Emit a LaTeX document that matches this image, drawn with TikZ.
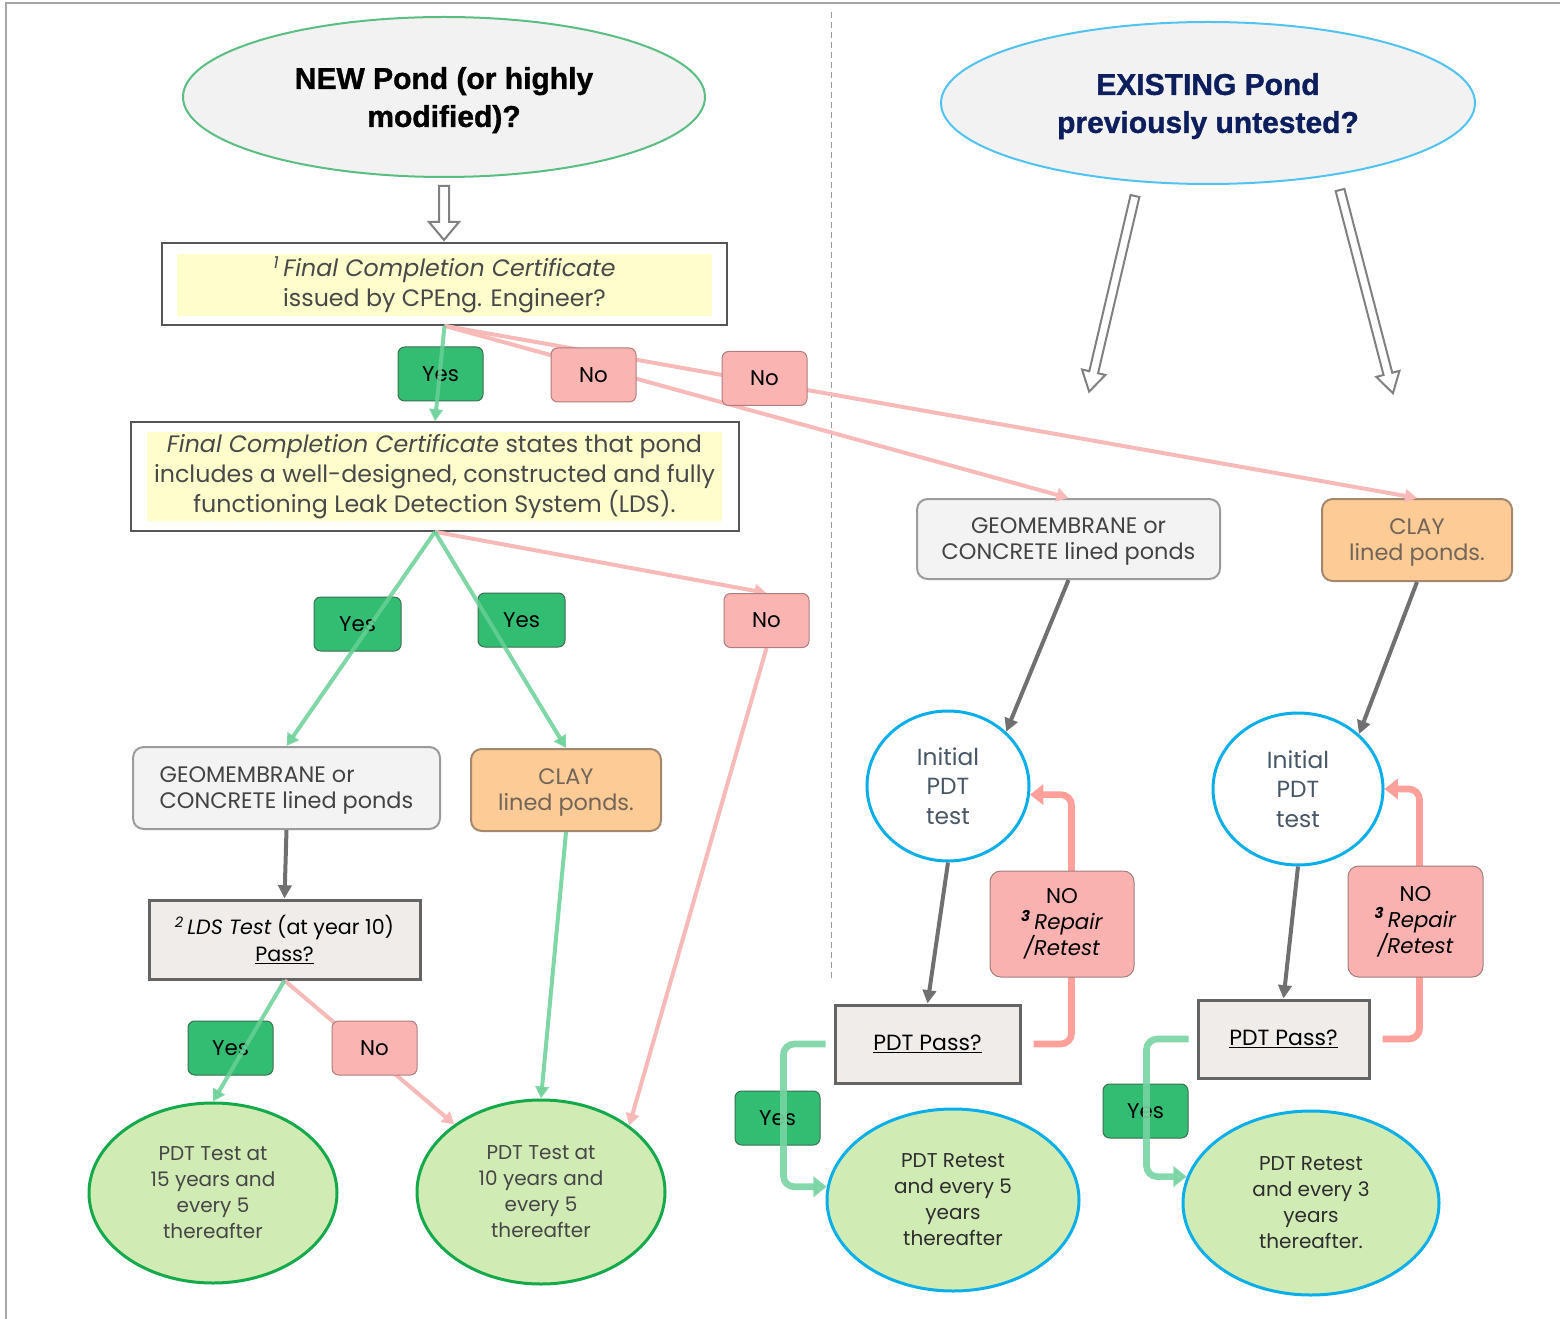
\documentclass[tikz,border=0pt]{standalone}
\usepackage{fontspec}
\setmainfont{Poppins}
\newfontfamily\headfont[BoldFeatures={FakeBold=1.2}]{Liberation Sans}
\usetikzlibrary{shapes.geometric,arrows.meta}

\tikzset{every picture/.style={line width=0.75pt}}
\tikzset{
  pondq/.style={ellipse, inner sep=0pt, fill={rgb, 255:red, 242; green, 242; blue, 242}, line width=1.5pt, align=center, text depth=-5pt, font=\headfont\bfseries\fontsize{22.5}{28.5}\selectfont},
  framebox/.style={rectangle, draw={rgb, 255:red, 85; green, 85; blue, 85}, line width=1.2pt, inner sep=0pt},
  hilite/.style={rectangle, fill={rgb, 255:red, 255; green, 253; blue, 204}, inner sep=0pt, align=center, text={rgb, 255:red, 72; green, 72; blue, 72}, font=\fontsize{17.8}{22.5}\selectfont},
  yeslbl/.style={rectangle, rounded corners=5pt, draw={rgb, 255:red, 60; green, 110; blue, 80}, fill={rgb, 255:red, 51; green, 189; blue, 115}, minimum width=63.75pt, minimum height=40.5pt, inner sep=0pt, font=\fontsize{16}{19}\selectfont},
  nolbl/.style={yeslbl, draw={rgb, 255:red, 175; green, 125; blue, 125}, fill={rgb, 255:red, 250; green, 180; blue, 178}},
  lined/.style={rectangle, rounded corners=8pt, line width=1.5pt, inner sep=0pt, minimum height=61.5pt, align=center, text depth=-1pt, font=\fontsize{16.8}{19.5}\selectfont},
  geobox/.style={lined, draw={rgb, 255:red, 155; green, 155; blue, 155}, fill={rgb, 255:red, 243; green, 243; blue, 243}, text={rgb, 255:red, 67; green, 67; blue, 67}},
  claybox/.style={lined, draw={rgb, 255:red, 165; green, 135; blue, 110}, fill={rgb, 255:red, 253; green, 203; blue, 150}, text={rgb, 255:red, 115; green, 100; blue, 88}},
  passbox/.style={rectangle, draw={rgb, 255:red, 100; green, 100; blue, 100}, line width=2.25pt, fill={rgb, 255:red, 239; green, 236; blue, 234}, inner sep=0pt, minimum height=58.5pt, align=center, font=\fontsize{16.5}{20}\selectfont},
  outcome/.style={ellipse, fill={rgb, 255:red, 209; green, 235; blue, 181}, line width=2.25pt, inner sep=0pt, align=center, text={rgb, 255:red, 70; green, 70; blue, 70}, font=\fontsize{15}{19.5}\selectfont},
  pdtring/.style={ellipse, draw={rgb, 255:red, 10; green, 174; blue, 232}, line width=2.25pt, fill=white, inner sep=0pt, align=center, text={rgb, 255:red, 72; green, 86; blue, 102}, font=\fontsize{17.5}{22}\selectfont},
  repbox/.style={rectangle, rounded corners=8pt, draw={rgb, 255:red, 160; green, 125; blue, 125}, fill={rgb, 255:red, 250; green, 178; blue, 176}, inner sep=0pt, align=center, font=\fontsize{16}{19.5}\selectfont},
  yesline/.style={draw={rgb, 255:red, 105; green, 208; blue, 150}, opacity=0.85, line width=3pt, -{Triangle[length=9pt,width=10pt]}},
  noline/.style={draw={rgb, 255:red, 248; green, 185; blue, 185}, line width=3pt, -{Triangle[length=9pt,width=10pt]}},
  greyline/.style={draw={rgb, 255:red, 112; green, 112; blue, 112}, line width=3pt, -{Triangle[length=10pt,width=10pt]}},
  noloop/.style={draw={rgb, 255:red, 255; green, 160; blue, 155}, line width=5pt, rounded corners=8pt, shorten <=9pt, -{Triangle[length=10pt,width=15pt]}},
  yesloop/.style={draw={rgb, 255:red, 120; green, 212; blue, 162}, opacity=0.9, line width=5pt, rounded corners=8pt, shorten <=6pt, -{Triangle[length=10pt,width=15pt]}},
  hollowarr/.style={draw={rgb, 255:red, 128; green, 128; blue, 128}, fill=white, line width=1.5pt, line join=miter}
}

\begin{document}
\begin{tikzpicture}[x=0.75pt,y=0.75pt,yscale=-1]
\useasboundingbox (0,0) rectangle (1560,1319);

%Straight Lines (frame)
\draw [color={rgb, 255:red, 165; green, 165; blue, 165 }, line width=1.5pt] (5,3) -- (1560,3) ;
\draw [color={rgb, 255:red, 165; green, 165; blue, 165 }, line width=1.5pt] (6,3) -- (6,1319) ;
%Straight Lines (divider)
\draw [color={rgb, 255:red, 155; green, 155; blue, 155 }, dash pattern=on 4.5pt off 3pt] (831,12) -- (831,980) ;

%Shape: Ellipse
\node [pondq, draw={rgb, 255:red, 90; green, 190; blue, 130}, minimum width=391.5pt, minimum height=120pt] (newq) at (444,97) {NEW Pond (or highly\\modified)?};
%Shape: Ellipse
\node [pondq, draw={rgb, 255:red, 80; green, 195; blue, 240}, text={rgb, 255:red, 12; green, 30; blue, 92}, minimum width=400.5pt, minimum height=121.5pt] (oldq) at (1208,103) {EXISTING Pond\\previously untested?};

%Hollow arrows
\draw [hollowarr, shift={(444,186)}] (-5,0) -- (-5,36) -- (-15,36) -- (0,54) -- (15,36) -- (5,36) -- (5,0) -- cycle ;
\draw [hollowarr, shift={(1135,196)}, rotate=13.2] (-4.5,0) -- (-4.5,181) -- (-12,181) -- (0,201) -- (12,181) -- (4.5,181) -- (4.5,0) -- cycle ;
\draw [hollowarr, shift={(1340,190)}, rotate=-14.6] (-4.5,0) -- (-4.5,190) -- (-12,190) -- (0,210) -- (12,190) -- (4.5,190) -- (4.5,0) -- cycle ;

%Shape: Rectangle
\node [framebox, minimum width=423.75pt, minimum height=61.5pt] (fcc) at (444.5,284) {};
\node [hilite, minimum width=401.25pt, minimum height=46.5pt] (fcctxt) at (444.5,285) {\textsuperscript{\itshape 1}\,\textit{Final Completion Certificate}\\issued by CPEng. Engineer?};
%Shape: Rectangle
\node [framebox, minimum width=456pt, minimum height=81.75pt] (ldsq) at (435,476.5) {};
\node [hilite, minimum width=431.25pt, minimum height=66.75pt] (ldsqtxt) at (434.5,476.5) {\textit{Final Completion Certificate} states that pond\\includes a well-designed, constructed and fully\\functioning Leak Detection System (LDS).};

%Shape: Rounded Rect
\node [geobox, minimum width=230.25pt, align=left] (geoL) at (286.5,788) {GEOMEMBRANE or\\CONCRETE lined ponds};
\node [claybox, minimum width=142.5pt] (clayL) at (566,790) {CLAY\\lined ponds.};
\node [geobox, minimum width=227.25pt, minimum height=60pt] (geoR) at (1068.5,539) {GEOMEMBRANE or\\CONCRETE lined ponds};
\node [claybox, minimum width=142.5pt] (clayR) at (1417,540) {CLAY\\lined ponds.};

%Shape: Rectangle
\node [passbox, minimum width=203.25pt, minimum height=59.25pt, font=\fontsize{15.5}{20}\selectfont] (ldsT) at (284.5,939.5) {\textsuperscript{\itshape 2}\,\textit{LDS Test} (at year 10)\\\underline{Pass?}};
\node [passbox, minimum width=138.75pt] (pass1) at (927.5,1044) {\underline{PDT Pass?}};
\node [passbox, minimum width=128.25pt] (pass2) at (1283.5,1039) {\underline{PDT Pass?}};

%Shape: Ellipse
\node [outcome, draw={rgb, 255:red, 20; green, 170; blue, 75}, minimum width=186pt, minimum height=135pt] (p15) at (213,1193) {PDT Test at\\15 years and\\every 5\\thereafter};
\node [outcome, draw={rgb, 255:red, 20; green, 170; blue, 75}, minimum width=186pt, minimum height=138pt] (p10) at (541,1192) {PDT Test at\\10 years and\\every 5\\thereafter};
\node [outcome, draw={rgb, 255:red, 10; green, 174; blue, 232}, text={rgb, 255:red, 45; green, 45; blue, 45}, minimum width=189pt, minimum height=136.5pt] (r5) at (953,1200) {PDT Retest\\and every 5\\years\\thereafter};
\node [outcome, draw={rgb, 255:red, 10; green, 174; blue, 232}, text={rgb, 255:red, 45; green, 45; blue, 45}, minimum width=192pt, minimum height=138pt] (r3) at (1311,1203) {PDT Retest\\and every 3\\years\\thereafter.};

%Shape: Circle
\node [pdtring, minimum width=121.5pt, minimum height=112.5pt] (c1) at (948,786) {Initial\\PDT\\test};
\node [pdtring, minimum width=127.5pt, minimum height=114pt] (c2) at (1298,789) {Initial\\PDT\\test};

%Straight Lines (no branches, behind labels)
\draw [noline] (fcc.south) -- (geoR.north) ;
\draw [noline] (fcc.south) -- (clayR.north) ;
\draw [noline] (ldsq.south) -- (766.5,593) ;
\draw [noline] (766.5,648) -- (p10.37) ;
\draw [noline] (ldsT.south) -- (p10.142) ;
%Curve Lines (retest loops)
\draw [noloop] (pass1.east) -- ++(50,0) |- (c1.-6) ;
\draw [noloop] (pass2.east) -- ++(49,0) |- (c2.east) ;

% Text Node
\node [nolbl] (fn1) at (593.5,375) {No};
\node [nolbl] (fn2) at (764.5,378.5) {No};
\node [nolbl] (ln1) at (766.5,620.5) {No};
\node [nolbl] (tn) at (374.5,1048) {No};
\node [yeslbl] (fy1) at (440.5,374) {Yes};
\node [yeslbl, minimum width=65.25pt] (ly1) at (357.5,624) {Yes};
\node [yeslbl, minimum width=65.25pt] (ly2) at (521.5,620) {Yes};
\node [yeslbl] (ty) at (230.5,1048) {Yes};
\node [yeslbl] (ry1) at (777.5,1118) {Yes};
\node [yeslbl] (ry2) at (1145.5,1111) {Yes};
\node [repbox, minimum width=108pt, minimum height=79.5pt] (rep1) at (1062,924) {NO\\\textsuperscript{\bfseries\itshape 3}\,\textit{Repair}\\\textit{/Retest}};
\node [repbox, minimum width=101.25pt, minimum height=83.25pt] (rep2) at (1415.5,921.5) {NO\\\textsuperscript{\bfseries\itshape 3}\,\textit{Repair}\\\textit{/Retest}};

%Straight Lines (yes branches)
\draw [yesline] (fcc.south) -- (ldsq.north) ;
\draw [yesline] (ldsq.south) -- (geoL.north) ;
\draw [yesline] (ldsq.south) -- (clayL.north) ;
\draw [yesline] (ldsT.south) -- (p15.north) ;
\draw [yesline] (clayL.south) -- (p10.north) ;
\draw [yesloop] (pass1.west) -- ++(-50,0) |- (r5.174) ;
\draw [yesloop] (pass2.west) -- ++(-50,0) |- (r3.168) ;

%Straight Lines (grey)
\draw [greyline] (geoL.south) -- (ldsT.north) ;
\draw [greyline] (geoR.south) -- (c1.43) ;
\draw [greyline] (clayR.south) -- (c2.42) ;
\draw [greyline] (c1.south) -- (pass1.north) ;
\draw [greyline] (c2.south) -- (pass2.north) ;

\end{tikzpicture}
\end{document}
